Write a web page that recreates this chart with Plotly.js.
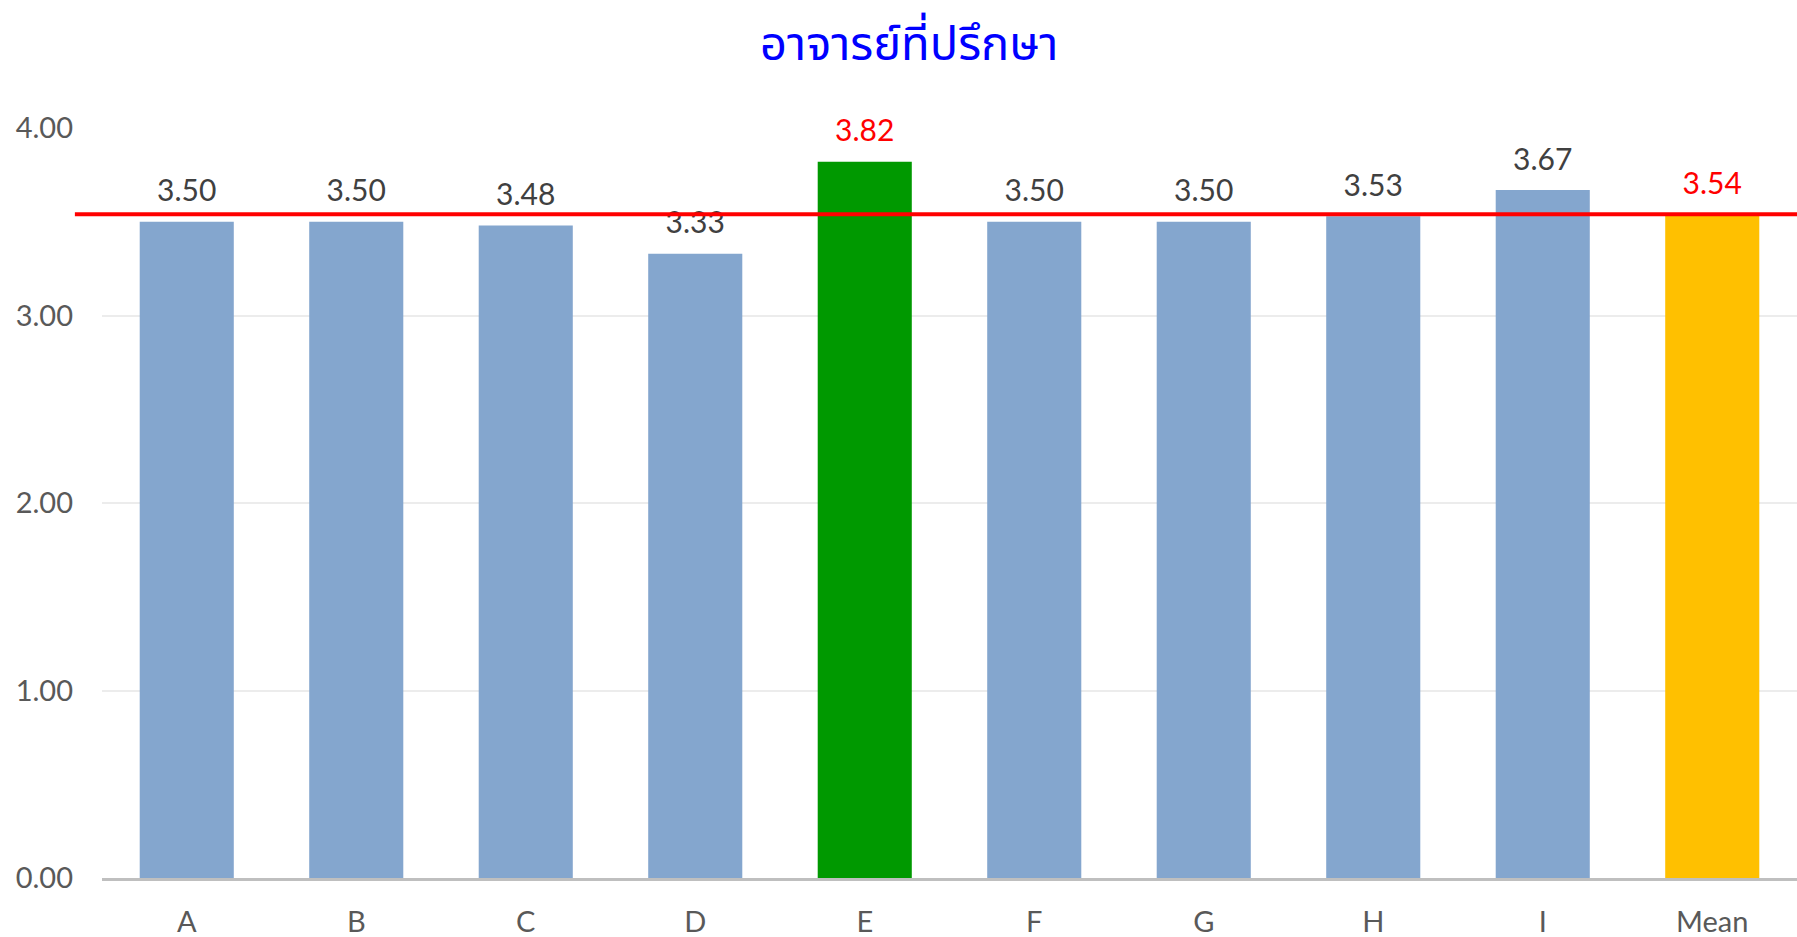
<!DOCTYPE html>
<html>
<head>
<meta charset="utf-8">
<script src="https://cdn.plot.ly/plotly-3.0.1.min.js"></script>
<style>html,body{margin:0;padding:0;background:#fff}#chart{width:1797px;height:937px}</style>
</head>
<body>
<div id="chart"></div>
<script>
const categories = ["A","B","C","D","E","F","G","H","I","Mean"];
const values = [3.50, 3.50, 3.48, 3.33, 3.82, 3.50, 3.50, 3.53, 3.67, 3.54];
const barColors = ["#84a6ce","#84a6ce","#84a6ce","#84a6ce","#009900","#84a6ce","#84a6ce","#84a6ce","#84a6ce","#ffc000"];
const labelColors = ["#404040","#404040","#404040","#404040","#ff0000","#404040","#404040","#404040","#404040","#ff0000"];
const meanValue = 3.54;
const yTicks = [0, 1, 2, 3, 4];
const yTickLabels = ["0.00","1.00","2.00","3.00","4.00"];
const titleText = "อาจารย์ที่ปรึกษา";

const font = "Lato, 'Open Sans', 'Noto Sans', sans-serif";

const bars = {
  type: "bar",
  x: categories,
  y: values,
  marker: {color: barColors, line: {width: 0}},
  hoverinfo: "none"
};
const labels = {
  type: "scatter",
  mode: "markers+text",
  x: categories,
  y: values,
  text: values.map(v => v.toFixed(2)),
  textposition: "top center",
  textfont: {family: font, size: 30, color: labelColors},
  marker: {size: 19, opacity: 0},
  cliponaxis: false,
  hoverinfo: "none"
};

const layout = {
  width: 1797, height: 937,
  paper_bgcolor: "#ffffff", plot_bgcolor: "#ffffff",
  margin: {l: 102, r: 0, t: 128, b: 59},
  showlegend: false,
  bargap: 0.445,
  title: {
    text: titleText,
    x: 0.506, xref: "container", xanchor: "center",
    y: 0.953, yref: "container", yanchor: "middle",
    font: {family: "'Noto Sans Thai', Tahoma, 'Noto Sans', sans-serif", size: 47, color: "#0000ff", weight: 400}
  },
  xaxis: {
    type: "category",
    range: [-0.5, categories.length - 0.5],
    showgrid: false,
    showline: true, linecolor: "#bfbfbf", linewidth: 3,
    ticks: "",
    ticklabelstandoff: 16,
    tickfont: {family: font, size: 29, color: "#595959"},
    zeroline: false
  },
  yaxis: {
    range: [0, 4],
    tickvals: yTicks,
    ticktext: yTickLabels,
    showgrid: true, gridcolor: "#ececec", gridwidth: 2,
    zeroline: false,
    showline: false,
    ticks: "",
    ticklabelstandoff: 28,
    tickfont: {family: font, size: 29, color: "#595959"}
  },
  shapes: [{
    type: "line", layer: "above",
    xref: "paper", x0: -0.016, x1: 1,
    yref: "y", y0: meanValue, y1: meanValue,
    line: {color: "#ff0000", width: 4}
  }]
};

Plotly.newPlot("chart", [bars, labels], layout, {displayModeBar: false, staticPlot: true});
</script>
</body>
</html>
